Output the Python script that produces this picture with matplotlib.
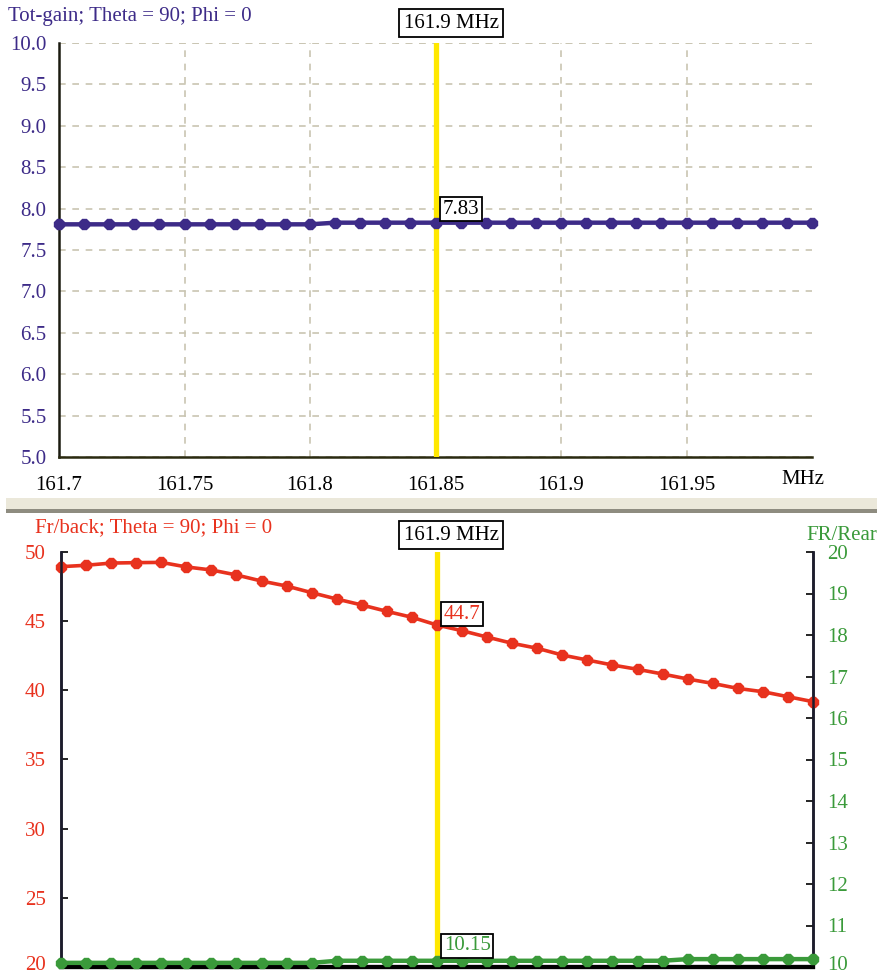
import matplotlib.pyplot as plt
from matplotlib.patches import Rectangle
import matplotlib.transforms as mtransforms

plt.rcParams['font.family'] = ['Liberation Serif', 'DejaVu Serif']

# frequency sweep (MHz)
freq = [161.70, 161.71, 161.72, 161.73, 161.74, 161.75, 161.76, 161.77, 161.78, 161.79,
        161.80, 161.81, 161.82, 161.83, 161.84, 161.85, 161.86, 161.87, 161.88, 161.89,
        161.90, 161.91, 161.92, 161.93, 161.94, 161.95, 161.96, 161.97, 161.98, 161.99,
        162.00]

tot_gain = [7.81, 7.81, 7.81, 7.81, 7.81, 7.81, 7.81, 7.81, 7.81, 7.81,
            7.81, 7.83, 7.83, 7.83, 7.83, 7.83, 7.83, 7.83, 7.83, 7.83,
            7.83, 7.83, 7.83, 7.83, 7.83, 7.83, 7.83, 7.83, 7.83, 7.83,
            7.83]

fr_back = [48.94, 49.04, 49.20, 49.23, 49.25, 48.92, 48.70, 48.34, 47.90, 47.54,
           47.06, 46.60, 46.17, 45.71, 45.28, 44.72, 44.31, 43.85, 43.40, 43.04,
           42.55, 42.19, 41.83, 41.52, 41.18, 40.82, 40.50, 40.14, 39.90, 39.54,
           39.18]

fr_rear = [10.10, 10.10, 10.10, 10.10, 10.10, 10.10, 10.10, 10.10, 10.10, 10.10,
           10.10, 10.15, 10.15, 10.15, 10.15, 10.15, 10.15, 10.15, 10.15, 10.15,
           10.15, 10.15, 10.15, 10.15, 10.15, 10.19, 10.19, 10.19, 10.19, 10.19,
           10.19]

x_ticks = [161.7, 161.75, 161.8, 161.85, 161.9, 161.95]
x_tick_labels = ['161.7', '161.75', '161.8', '161.85', '161.9', '161.95']
gain_ticks = [5.0, 5.5, 6.0, 6.5, 7.0, 7.5, 8.0, 8.5, 9.0, 9.5, 10.0]
fb_ticks = [20, 25, 30, 35, 40, 45, 50]
rear_ticks = [10, 11, 12, 13, 14, 15, 16, 17, 18, 19, 20]

marker_freq = 161.85
marker_text = '161.9 MHz'

PURPLE = '#3d2b88'
RED = '#e8321e'
GREEN = '#3a9a3a'
YELLOW = '#ffe800'
GRID = '#c9c5b2'

W, H = 877, 975
fig = plt.figure(figsize=(W / 100, H / 100), dpi=100)


def box(px_left, px_top, px_right, px_bottom):
    return [px_left / W, 1 - px_bottom / H, (px_right - px_left) / W, (px_bottom - px_top) / H]


# ---------- top panel: total gain ----------
ax = fig.add_axes(box(59, 43, 812, 457))
ax.plot(freq, tot_gain, color=PURPLE, lw=3.2, marker='8', ms=7.5, zorder=4, clip_on=False)
ax.set_xlim(161.7, 162.0)
ax.set_ylim(5.0, 10.0)
ax.set_xticks(x_ticks)
ax.set_xticklabels(x_tick_labels)
ax.set_yticks(gain_ticks)
ax.set_yticklabels([f'{v:.1f}' for v in gain_ticks])
ax.tick_params(axis='x', length=0, pad=14, labelsize=15, colors='black')
ax.tick_params(axis='y', length=0, pad=9, labelsize=15, labelcolor=PURPLE)
for s in ['top', 'right']:
    ax.spines[s].set_visible(False)
ax.spines['left'].set_color('#1a1a10')
ax.spines['bottom'].set_color('#2a2a10')
ax.spines['left'].set_linewidth(1.8)
ax.spines['bottom'].set_linewidth(1.8)
ax.grid(True, color=GRID, linestyle=(0, (4, 4)), linewidth=1.2)
ax.axhline(10.0, color=GRID, linestyle=(0, (4, 4)), linewidth=1.2, zorder=1)
ax.axvline(marker_freq, color=YELLOW, lw=3.8, zorder=3)

fig.text(8 / W, 1 - 17 / H, 'Tot-gain; Theta = 90; Phi = 0', color=PURPLE,
         fontsize=15, ha='left', va='center')
fig.text(803 / W, 1 - 479 / H, 'MHz', color='black', fontsize=15, ha='center', va='center')

fig.text(451 / W, 1 - 23 / H, marker_text, fontsize=15, ha='center', va='center',
         bbox=dict(boxstyle='square,pad=0.2', fc='white', ec='black', lw=1.3))

i_m = freq.index(marker_freq)
ax.annotate(f'{tot_gain[i_m]:.2f}', xy=(marker_freq, tot_gain[i_m]),
            xytext=(5, 3), textcoords='offset points', ha='left', va='bottom',
            fontsize=15, color='black', zorder=6,
            bbox=dict(boxstyle='square,pad=0.12', fc='white', ec='black', lw=1.3))

# separator bar between panels
fig.patches.append(Rectangle((6 / W, 1 - 510 / H), 1 - 6 / W, 12 / H,
                             transform=fig.transFigure, fc='#ebe8da', ec='none'))
fig.patches.append(Rectangle((6 / W, 1 - 513 / H), 1 - 6 / W, 4 / H,
                             transform=fig.transFigure, fc='#8e8c80', ec='none'))

# ---------- bottom panel: front/back and front/rear ----------
ax_b = fig.add_axes(box(61, 552, 813, 967))
ax_r = ax_b.twinx()

ax_b.plot(freq, fr_back, color=RED, lw=2.6, marker='8', ms=7.5, zorder=4, clip_on=False)
ax_r.plot(freq, fr_rear, color=GREEN, lw=3.2, marker='8', ms=7.5, zorder=4, clip_on=False)

ax_b.set_xlim(161.7, 162.0)
ax_b.set_ylim(20, 50)
ax_r.set_ylim(10, 20)
ax_b.set_xticks(x_ticks)
ax_b.set_xticklabels([])
ax_b.set_yticks(fb_ticks)
ax_r.set_yticks(rear_ticks)
ax_b.tick_params(axis='x', direction='in', length=5, width=1.2)
ax_b.tick_params(axis='y', direction='in', length=5, width=1.2, pad=11,
                 labelsize=15, labelcolor=RED)
ax_r.tick_params(axis='y', direction='in', length=5, width=1.2, pad=10,
                 labelsize=15, labelcolor=GREEN)
for a in (ax_b, ax_r):
    a.spines['top'].set_visible(False)
    a.spines['left'].set_color('#1c1c2c')
    a.spines['right'].set_color('#1c1c2c')
    a.spines['left'].set_linewidth(1.8)
    a.spines['right'].set_linewidth(1.8)
    a.spines['bottom'].set_color('black')
    a.spines['bottom'].set_linewidth(3)

# lift the lowest tick labels a little so they stay inside the canvas
lift = mtransforms.ScaledTranslation(0, 4 / 100, fig.dpi_scale_trans)
for lbl in (ax_b.get_yticklabels()[0], ax_r.get_yticklabels()[0]):
    lbl.set_transform(lbl.get_transform() + lift)

ax_b.axvline(marker_freq, color=YELLOW, lw=3.8, zorder=3)

fig.text(35 / W, 1 - 528 / H, 'Fr/back; Theta = 90; Phi = 0', color=RED,
         fontsize=15, ha='left', va='center')
fig.text(877 / W, 1 - 536 / H, 'FR/Rear', color=GREEN, fontsize=15, ha='right', va='center')
fig.text(451 / W, 1 - 535 / H, marker_text, fontsize=15, ha='center', va='center',
         bbox=dict(boxstyle='square,pad=0.2', fc='white', ec='black', lw=1.3))

ax_b.annotate(f'{fr_back[i_m]:.1f}', xy=(marker_freq, fr_back[i_m]),
              xytext=(5, 1), textcoords='offset points', ha='left', va='bottom',
              fontsize=15, color=RED, zorder=6,
              bbox=dict(boxstyle='square,pad=0.12', fc='white', ec='black', lw=1.3))
ax_r.annotate(f'{fr_rear[i_m]:.2f}', xy=(marker_freq, fr_rear[i_m]),
              xytext=(5, 4), textcoords='offset points', ha='left', va='bottom',
              fontsize=15, color=GREEN, zorder=6,
              bbox=dict(boxstyle='square,pad=0.12', fc='white', ec='black', lw=1.3))

fig.savefig('out.png', dpi=100, facecolor='white')
